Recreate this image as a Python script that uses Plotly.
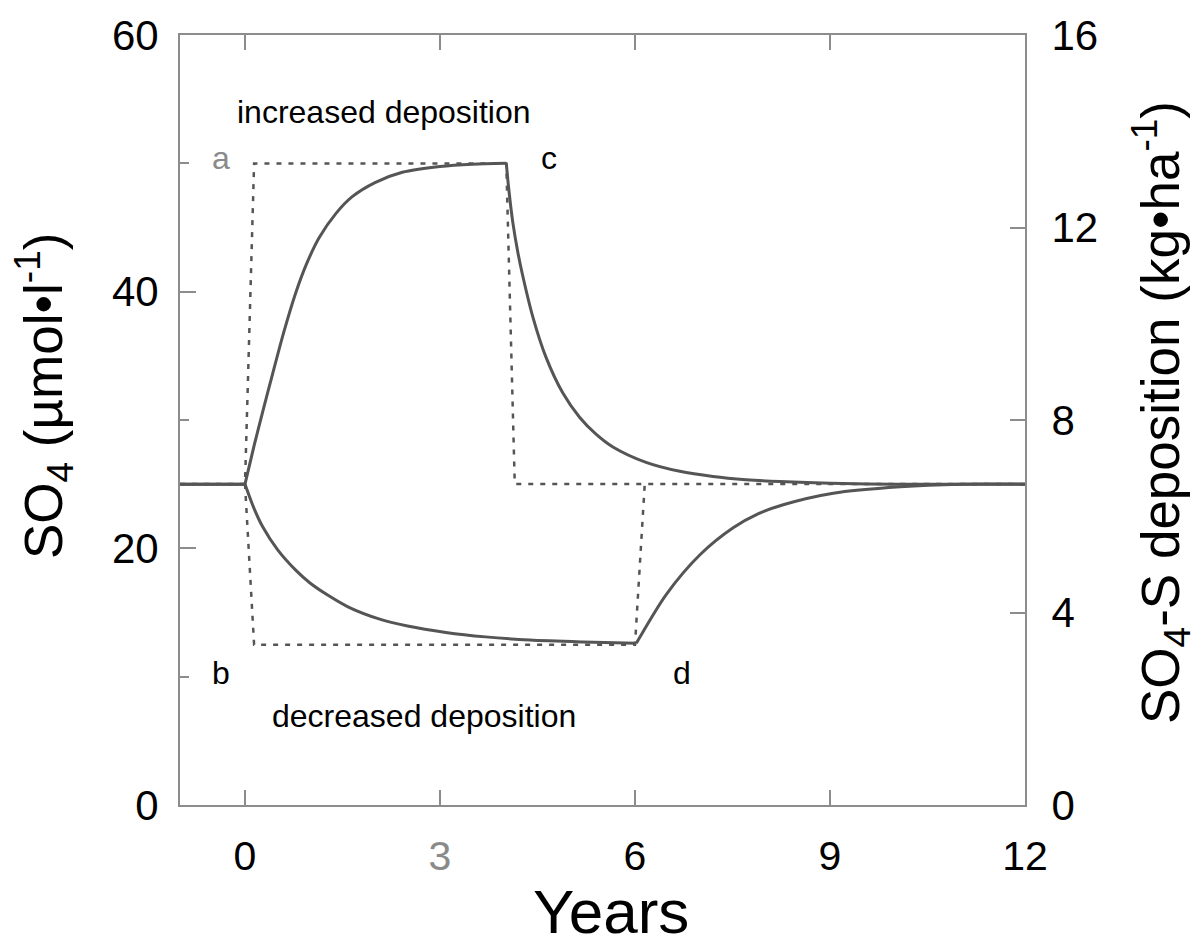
import plotly.graph_objects as go

# Soil-water SO4 response (µmol/l) to a step change in deposition
years_inc = [-1, 0, 0.14, 0.27, 0.42, 0.6, 0.78, 0.95, 1.14, 1.4, 1.65, 2.0, 2.42, 3.0, 3.5, 4.02,
             4.06, 4.12, 4.2, 4.27, 4.43, 4.63, 4.89, 5.15, 5.4, 5.66, 6.17, 6.69, 7.2, 7.71, 8.23,
             9.0, 10.0, 12.0]
so4_inc = [25, 25, 28.0, 30.6, 33.5, 36.9, 39.9, 42.2, 44.2, 46.1, 47.4, 48.5, 49.3, 49.75, 49.93, 50,
           47.9, 45.4, 43.0, 41.3, 38.0, 34.9, 32.1, 30.2, 28.9, 27.9, 26.7, 26.0, 25.6, 25.35, 25.2,
           25.07, 25.0, 25.0]

years_dec = [-1, 0, 0.14, 0.27, 0.5, 0.78, 1.0, 1.29, 1.6, 2.06, 2.5, 3.09, 3.7, 4.38, 5.2, 6.02,
             6.48, 7.0, 7.51, 7.9, 8.28, 9.05, 10.08, 11.0, 12.0]
so4_dec = [25, 25, 23.1, 21.7, 19.9, 18.3, 17.3, 16.3, 15.4, 14.5, 13.95, 13.45, 13.1, 12.85, 12.7, 12.6,
           16.4, 19.5, 21.6, 22.7, 23.4, 24.3, 24.8, 25.0, 25.0]

# Deposition scenarios (kg/ha, right axis)
dep_inc_years = [-1, 0, 0.14, 4.02, 4.15, 12]
dep_inc = [6.67, 6.67, 13.33, 13.33, 6.67, 6.67]
dep_dec_years = [0, 0.14, 6.0, 6.15]
dep_dec = [6.67, 3.33, 3.33, 6.67]

x_ticks = [0, 3, 6, 9, 12]
x_ticktext = ["0", "<span style='color:#8a8a8a'>3</span>", "6", "9", "12"]
y_ticks = [0, 20, 40, 60]
y2_ticks = [0, 4, 8, 12, 16]

LINE = "#555555"
FRAME = "#8c8c8c"
FONT = "Liberation Sans, Arial, sans-serif"

fig = go.Figure()

fig.add_trace(go.Scatter(x=dep_inc_years, y=dep_inc, yaxis="y2", mode="lines",
                         line=dict(color=LINE, width=2.5, dash="5px,7px"), hoverinfo="skip"))
fig.add_trace(go.Scatter(x=dep_dec_years, y=dep_dec, yaxis="y2", mode="lines",
                         line=dict(color=LINE, width=2.5, dash="5px,7px"), hoverinfo="skip"))


def add_curve(xs, ys, turn):
    """Flat lead-in, then two smooth branches joined at the turning point."""
    pieces = [(0, 2, "linear"), (1, turn + 1, "spline"), (turn, len(xs), "spline")]
    for a, b, shape in pieces:
        fig.add_trace(go.Scatter(x=xs[a:b], y=ys[a:b], mode="lines",
                                 line=dict(color=LINE, width=3, shape=shape, smoothing=0.8)))


add_curve(years_inc, so4_inc, years_inc.index(4.02))
add_curve(years_dec, so4_dec, years_dec.index(6.02))

labels = [
    ("increased deposition", 2.14, 54.0, "black"),
    ("a", -0.37, 50.4, "#8a8a8a"),
    ("c", 4.67, 50.4, "black"),
    ("b", -0.37, 10.3, "black"),
    ("d", 6.73, 10.3, "black"),
    ("decreased deposition", 2.76, 6.9, "black"),
]
for txt, lx, ly, col in labels:
    fig.add_annotation(x=lx, y=ly, text=txt, showarrow=False,
                       font=dict(family=FONT, size=32, color=col))

# Axis titles
titles = [
    ("Years", 611, 912, 0, 62),
    ("SO<sub>4</sub> (µmol•l<sup>-1</sup>)", 43, 395, -90, 53),
    ("SO<sub>4</sub>-S deposition (kg•ha<sup>-1</sup>)", 1160, 412, -90, 53),
]
for txt, px, py, ang, size in titles:
    fig.add_annotation(xref="paper", yref="paper", x=(px - 180) / 845, y=(805 - py) / 772,
                       xanchor="center", yanchor="middle", text=txt, textangle=ang,
                       showarrow=False, font=dict(family=FONT, size=size, color="black"))

fig.update_layout(
    width=1201, height=952,
    margin=dict(l=180, r=176, t=33, b=147),
    paper_bgcolor="white", plot_bgcolor="white",
    showlegend=False,
    xaxis=dict(range=[-1, 12], tickvals=x_ticks, ticktext=x_ticktext,
               ticks="inside", ticklen=15, tickwidth=1.5, tickcolor=FRAME,
               showline=True, linecolor=FRAME, linewidth=2, mirror="ticks",
               showgrid=False, zeroline=False, ticklabelstandoff=14,
               tickfont=dict(family=FONT, size=41, color="black")),
    yaxis=dict(range=[0, 60], tickvals=y_ticks, ticks="inside", ticklen=16, tickwidth=1.5,
               tickcolor=FRAME, minor=dict(dtick=10, ticks="inside", ticklen=9, tickcolor=FRAME),
               showline=True, linecolor=FRAME, linewidth=2,
               showgrid=False, zeroline=False, ticklabelstandoff=11,
               tickfont=dict(family=FONT, size=42, color="black")),
    yaxis2=dict(range=[0, 16], tickvals=y2_ticks, overlaying="y", side="right",
                ticks="inside", ticklen=15, tickwidth=1.5, tickcolor=FRAME,
                showline=True, linecolor=FRAME, linewidth=2,
                showgrid=False, zeroline=False, ticklabelstandoff=16,
                tickfont=dict(family=FONT, size=42, color="black")),
)

fig.write_html("out.html")
